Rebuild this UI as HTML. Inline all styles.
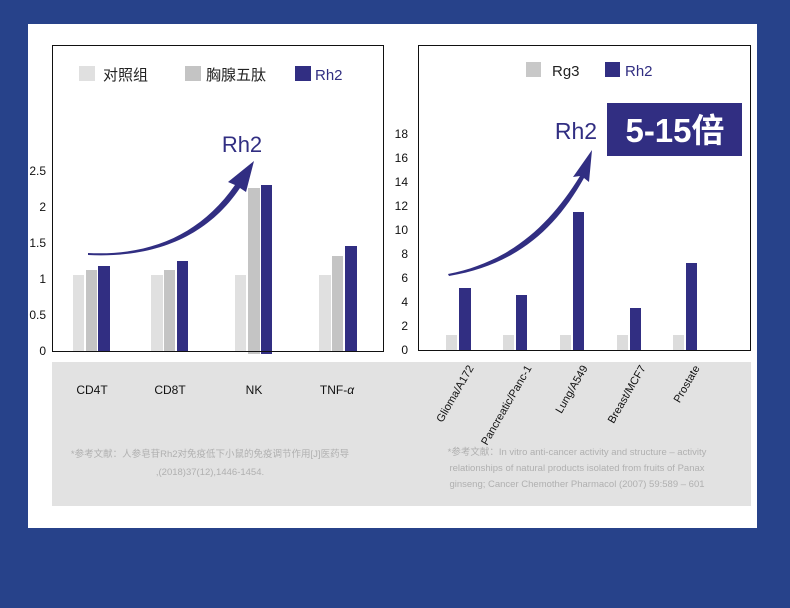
<!DOCTYPE html>
<html><head><meta charset="utf-8"><style>
body{margin:0;width:790px;height:608px;background:#27428a;overflow:hidden;font-family:"Liberation Sans","Noto Sans CJK SC",sans-serif}
</style></head><body>
<svg width="790" height="608" xmlns="http://www.w3.org/2000/svg" style="position:absolute;left:0;top:0">
<rect x="28" y="24" width="729" height="504" fill="#fff"/>
<rect x="52" y="362" width="699" height="144" fill="#e2e2e2"/>
<rect x="52.5" y="45.5" width="331" height="306" fill="none" stroke="#111" stroke-width="1"/>
<rect x="418.5" y="45.5" width="332" height="305" fill="none" stroke="#111" stroke-width="1"/>
<g font-size="12" fill="#111" text-anchor="end">
<text x="46" y="355">0</text><text x="46" y="319">0.5</text><text x="46" y="283">1</text><text x="46" y="247">1.5</text><text x="46" y="211">2</text><text x="46" y="175">2.5</text>
<text x="408" y="354">0</text><text x="408" y="330">2</text><text x="408" y="306">4</text><text x="408" y="282">6</text><text x="408" y="258">8</text><text x="408" y="234">10</text><text x="408" y="210">12</text><text x="408" y="186">14</text><text x="408" y="162">16</text><text x="408" y="138">18</text>
</g>
<!-- legend left -->
<rect x="79" y="66" width="16" height="15" fill="#e0e0e0"/><text x="103" y="80" font-size="15" fill="#222">对照组</text>
<rect x="185" y="66" width="16" height="15" fill="#c4c4c4"/><text x="206" y="80" font-size="15" fill="#222">胸腺五肽</text>
<rect x="295" y="66" width="16" height="15" fill="#312e82"/><text x="315" y="80" font-size="15" fill="#312e82">Rh2</text>
<!-- left bars -->
<g fill="#e0e0e0"><rect x="73" y="275" width="11" height="77"/><rect x="151" y="275" width="12" height="77"/><rect x="235" y="275" width="11" height="77"/><rect x="319" y="275" width="12" height="77"/></g>
<g fill="#c4c4c4"><rect x="86" y="270" width="11" height="82"/><rect x="164" y="270" width="11" height="82"/><rect x="248" y="188" width="12" height="166"/><rect x="332" y="256" width="11" height="96"/></g>
<g fill="#312e82"><rect x="98" y="266" width="12" height="86"/><rect x="177" y="261" width="11" height="91"/><rect x="261" y="185" width="11" height="169"/><rect x="345" y="246" width="12" height="106"/></g>
<line x1="52" y1="351.5" x2="384" y2="351.5" stroke="#111"/>
<!-- left arrow -->
<path d="M88 253 C150 256 200 235 235 185 L228 182 L254 161 L246 192 L240 188 C205 240 150 258 88 255 Z" fill="#312e82"/>
<text x="242" y="152" font-size="22" fill="#312e82" text-anchor="middle">Rh2</text>
<!-- right legend -->
<rect x="526" y="62" width="15" height="15" fill="#c8c8c8"/><text x="552" y="76" font-size="15" fill="#222">Rg3</text>
<rect x="605" y="62" width="15" height="15" fill="#312e82"/><text x="625" y="76" font-size="15" fill="#312e82">Rh2</text>
<!-- right bars -->
<g fill="#dcdcdc"><rect x="446" y="335" width="11" height="15"/><rect x="503" y="335" width="11" height="15"/><rect x="560" y="335" width="11" height="15"/><rect x="617" y="335" width="11" height="15"/><rect x="673" y="335" width="11" height="15"/></g>
<g fill="#312e82"><rect x="459" y="288" width="12" height="62"/><rect x="516" y="295" width="11" height="55"/><rect x="573" y="212" width="11" height="138"/><rect x="630" y="308" width="11" height="42"/><rect x="686" y="263" width="11" height="87"/></g>
<!-- right arrow -->
<path d="M448 274 C510 262 550 225 580 176 L573 177 L592 150 L589 182 L584 178 C555 230 515 265 449 276 Z" fill="#312e82"/>
<text x="576" y="139" font-size="23" fill="#312e82" text-anchor="middle">Rh2</text>
<rect x="607" y="103" width="135" height="53" fill="#312e82"/>
<text x="675" y="142" font-size="33" font-weight="bold" fill="#fff" text-anchor="middle">5-15倍</text>
<!-- category labels -->
<g font-size="12" fill="#111" text-anchor="middle">
<text x="92" y="394">CD4T</text><text x="170" y="394">CD8T</text><text x="254" y="394">NK</text><text x="337" y="394">TNF-<tspan font-style="italic">α</tspan></text>
</g>
<g font-size="11" fill="#111" text-anchor="end">
<text transform="translate(474,368) rotate(-60)">Glioma/A172</text>
<text transform="translate(532,368) rotate(-60)">Pancreatic/Panc-1</text>
<text transform="translate(588,368) rotate(-60)">Lung/A549</text>
<text transform="translate(646,368) rotate(-60)">Breast/MCF7</text>
<text transform="translate(700,368) rotate(-60)">Prostate</text>
</g>
<g font-size="9.5" fill="#b0b0b0" text-anchor="middle">
<text x="210" y="457">*参考文献：人参皂苷Rh2对免疫低下小鼠的免疫调节作用[J]医药导</text>
<text x="210" y="475">,(2018)37(12),1446-1454.</text>
<text x="577" y="455">*参考文献：In vitro anti-cancer activity and structure – activity</text>
<text x="577" y="471">relationships of natural products isolated from fruits of Panax</text>
<text x="577" y="487">ginseng;  Cancer Chemother Pharmacol (2007) 59:589 – 601</text>
</g>
</svg>
</body></html>
